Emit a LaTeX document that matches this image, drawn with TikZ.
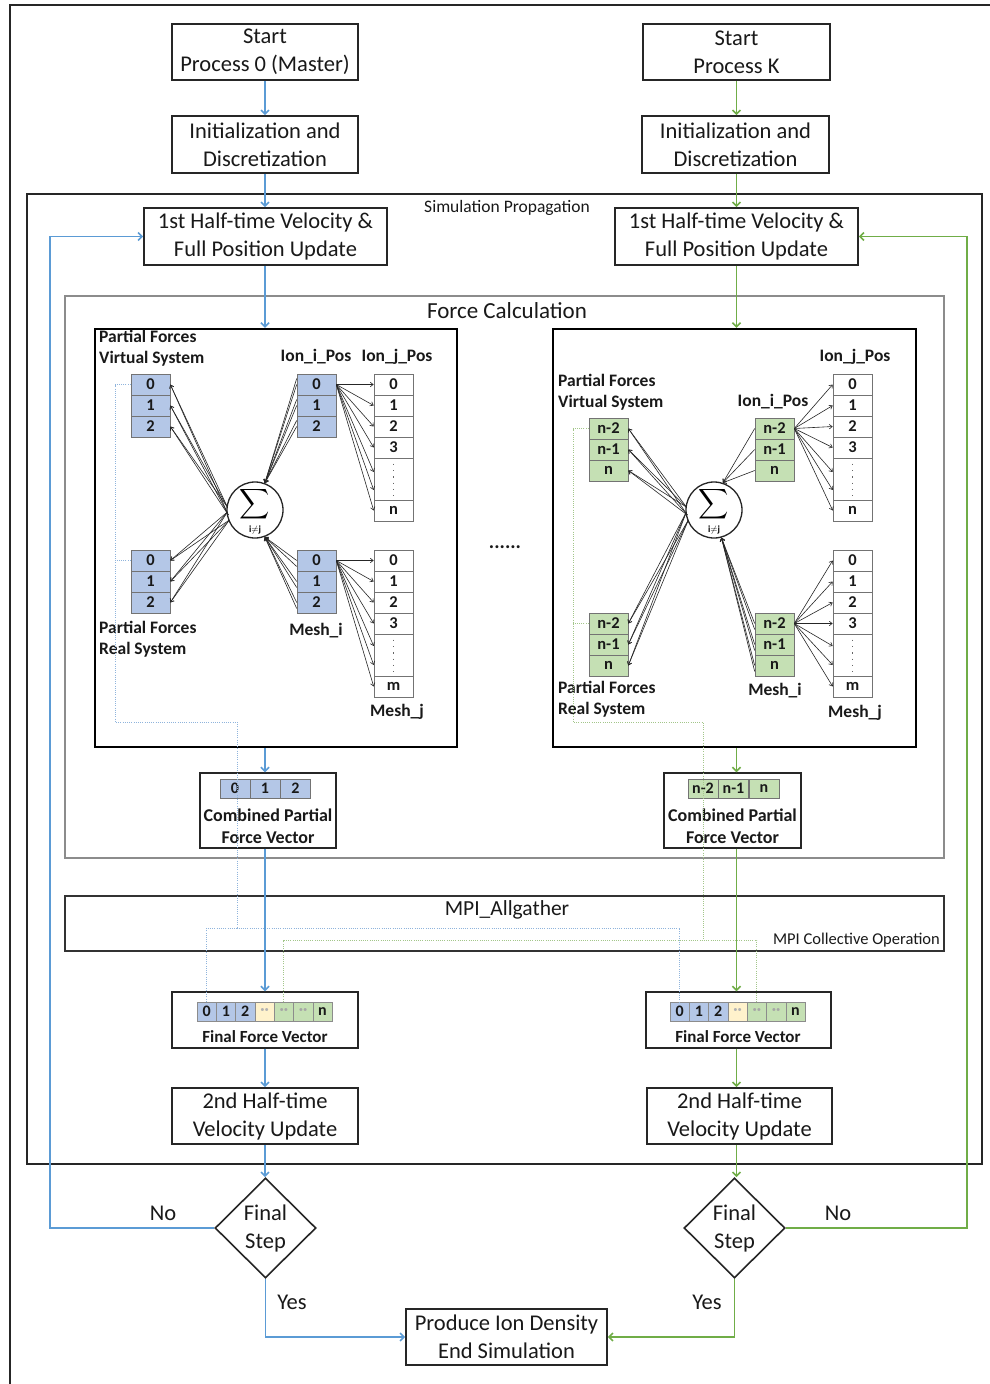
\documentclass[tikz,border=0pt]{standalone}
\usepackage{fontspec}
\usepackage{graphicx}
\setmainfont{Carlito}
\usetikzlibrary{arrows.meta,shapes.geometric,calc}
\definecolor{bln}{HTML}{5B9BD5}
\definecolor{grn}{HTML}{70AD47}
\definecolor{cbl}{HTML}{B4C7E7}
\definecolor{cgr}{HTML}{C5E0B4}
\definecolor{cye}{HTML}{FFF2CC}
\definecolor{bdt}{HTML}{8FB4DC}
\definecolor{gdt}{HTML}{A3C68A}
\begin{document}
\begin{tikzpicture}[x=1pt,y=-1pt,
  box/.style={draw=black!85, line width=1.6pt, align=center, inner sep=0pt, text=black!90, font=\fontsize{22.5}{28}\selectfont},
  bl/.style={draw=bln, line width=1.6pt, -{Straight Barb[length=4pt,width=8pt]}},
  gl/.style={draw=grn, line width=1.6pt, -{Straight Barb[length=4pt,width=8pt]}},
  cellbase/.style={draw=black!55, line width=0.6pt, minimum width=39pt, minimum height=21pt, inner sep=0pt, text=black!90, font=\fontsize{16.5}{16.5}\selectfont\bfseries},
  cb/.style={cellbase, fill=cbl},
  cg/.style={cellbase, fill=cgr},
  cw/.style={cellbase, fill=white},
  fcell/.style={draw=black!45, line width=0.5pt, minimum width=19.3pt, minimum height=19pt, inner sep=0pt, text=black!90, font=\fontsize{16}{16}\selectfont\bfseries},
  ccell/.style={draw=black!55, line width=0.5pt, minimum width=30pt, minimum height=19pt, inner sep=0pt, text=black!90, font=\fontsize{16}{16}\selectfont\bfseries},
  lbl/.style={inner sep=0pt, text=black!90, font=\fontsize{17.5}{21}\selectfont\bfseries, align=left},
  ar/.style={draw=black!85, line width=0.6pt, -{Straight Barb[length=3pt,width=4.5pt]}},
  dotB/.style={draw=bdt, line width=1pt, dash pattern=on 1pt off 1.2pt},
  dotG/.style={draw=gdt, line width=1pt, dash pattern=on 1pt off 1.2pt},
  yn/.style={inner sep=0pt, text=black!90, font=\fontsize{22.5}{22.5}\selectfont}
]
\useasboundingbox (0,0) rectangle (990,1384);
\fill[white] (0,0) rectangle (990,1384);
\draw[line width=2pt, black!85] (10,1384) -- (10,5) -- (990,5);

% ---------- top boxes ----------
\node[box, minimum width=186pt, minimum height=56pt] (s0) at (265,52) {Start\\Process 0 (Master)};
\node[box, minimum width=187pt, minimum height=56pt] (s1) at (736.5,52) {Start\\Process K};
\node[box, minimum width=186pt, minimum height=57pt] (i0) at (265,144.5) {Initialization and\\Discretization};
\node[box, minimum width=187pt, minimum height=57pt] (i1) at (735.5,144.5) {Initialization and\\Discretization};

% ---------- frames ----------
\node[draw=black!85, line width=1.3pt, minimum width=955pt, minimum height=970pt, inner sep=0pt] (sim) at (504.5,679) {};
\node[inner sep=0pt, text=black!90, font=\fontsize{17.5}{17.5}\selectfont] (simt) at (507,208) {Simulation Propagation};
\node[box, minimum width=243pt, minimum height=57pt] (h0) at (265.5,236.5) {1st Half-time Velocity \&\\Full Position Update};
\node[box, minimum width=243pt, minimum height=57pt] (h1) at (736.5,236.5) {1st Half-time Velocity \&\\Full Position Update};

\node[draw=black!45, line width=1.2pt, minimum width=879pt, minimum height=562pt, inner sep=0pt] (fc) at (504.5,577) {};
\node[inner sep=0pt, text=black!90, font=\fontsize{23}{23}\selectfont] (fct) at (507,311) {Force Calculation};

\node[draw=black, line width=2.4pt, minimum width=362pt, minimum height=418pt, inner sep=0pt] (lp) at (276,538) {};
\node[draw=black, line width=2.4pt, minimum width=363pt, minimum height=418pt, inner sep=0pt] (rp) at (734.5,538) {};
\node[inner sep=0pt, text=black!90, font=\fontsize{20}{20}\selectfont\bfseries] (dots) at (505,547) {......};

% ---------- left panel ----------
\node[lbl, anchor=north west] (lvt) at (99,330) {Partial Forces\\Virtual System};
\node[lbl] (lit) at (316,357) {Ion\_i\_Pos};
\node[lbl] (ljt) at (397,357) {Ion\_j\_Pos};
\node[lbl, anchor=north west] (lrt) at (99,621) {Partial Forces\\Real System};
\node[lbl] (lmt) at (316,631) {Mesh\_i};
\node[lbl] (lkt) at (397,712) {Mesh\_j};

\foreach \n/\y in {0/384.5,1/405.5,2/426.5} {
  \node[cb] (lv\n) at (150.5,\y) {\n};
  \node[cb] (li\n) at (316.5,\y) {\n};
}
\foreach \n/\y in {0/560.5,1/581.5,2/602.5} {
  \node[cb] (lr\n) at (150.5,\y) {\n};
  \node[cb] (lm\n) at (316.5,\y) {\n};
}
\node[cw] (lj0) at (393.5,384.5) {0};
\node[cw] (lj1) at (393.5,405.5) {1};
\node[cw] (lj2) at (393.5,426.5) {2};
\node[cw] (lj3) at (393.5,447.5) {3};
\node[cw, minimum height=42pt] (ljd) at (393.5,479) {};
\node[cw] (ljn) at (393.5,510.5) {n};
\node[cw] (lk0) at (393.5,560.5) {0};
\node[cw] (lk1) at (393.5,581.5) {1};
\node[cw] (lk2) at (393.5,602.5) {2};
\node[cw] (lk3) at (393.5,623.5) {3};
\node[cw, minimum height=42pt] (lkd) at (393.5,655) {};
\node[cw] (lkm) at (393.5,686.5) {m};
\draw[black!60, line width=1.3pt, dash pattern=on 1.3pt off 5pt] ($(ljd.north)+(0,6)$) -- ($(ljd.south)+(0,-5)$);
\draw[black!60, line width=1.3pt, dash pattern=on 1.3pt off 5pt] ($(lkd.north)+(0,6)$) -- ($(lkd.south)+(0,-5)$);

\node[circle, draw=black!85, line width=1.3pt, minimum size=56pt, inner sep=0pt] (sl) at (255,510) {};
\node[inner sep=0pt] (sls) at (255,504) {\scalebox{2.1}{$\displaystyle\sum$}};
\node[inner sep=0pt, font=\fontsize{9.5}{9.5}\selectfont\bfseries] (sli) at (255,530) {i$\neq$j};

\foreach \c in {lv0,lv1,lv2} {
  \draw[ar] ($(sl.west)+(1,-3)$) -- (\c.east);
  \draw[ar] ($(sl.west)+(2,5)$) -- (\c.east);
}
\foreach \c in {lr0,lr1,lr2} {
  \draw[ar] ($(sl.west)+(1,2)$) -- (\c.east);
  \draw[ar] ($(sl.west)+(3,10)$) -- (\c.east);
}
\foreach \c in {li0,li1,li2} {
  \draw[ar] (\c.west) -- (sl.70);
  \draw[ar] ($(\c.west)+(0,-6)$) -- (sl.70);
}
\foreach \c in {lm0,lm1,lm2} {
  \draw[ar] (\c.west) -- (sl.-70);
  \draw[ar] ($(\c.west)+(0,6)$) -- (sl.-70);
}
\foreach \c in {lj0,lj1,lj2,lj3,ljn} \draw[ar] (li0.east) -- (\c.west);
\draw[ar] (li0.east) -- ($(ljd.west)+(0,-7)$);
\draw[ar] (li0.east) -- ($(ljd.west)+(0,11)$);
\foreach \c in {lk0,lk1,lk2,lk3,lkm} \draw[ar] (lm0.east) -- (\c.west);
\draw[ar] (lm0.east) -- ($(lkd.west)+(0,-9)$);
\draw[ar] (lm0.east) -- ($(lkd.west)+(0,10)$);

% ---------- right panel ----------
\node[lbl, anchor=north west] (rvt) at (558,374) {Partial Forces\\Virtual System};
\node[lbl] (rit) at (773,402) {Ion\_i\_Pos};
\node[lbl] (rjt) at (855,357) {Ion\_j\_Pos};
\node[lbl, anchor=north west] (rrt) at (558,681) {Partial Forces\\Real System};
\node[lbl] (rmt) at (775,691) {Mesh\_i};
\node[lbl] (rkt) at (855,713) {Mesh\_j};

\foreach \n/\y/\t in {0/428.5/n-2,1/449.5/n-1,2/470.5/n} {
  \node[cg] (rv\n) at (608.5,\y) {\t};
  \node[cg] (ri\n) at (774.5,\y) {\t};
}
\foreach \n/\y/\t in {0/623.5/n-2,1/644.5/n-1,2/665.5/n} {
  \node[cg] (rr\n) at (608.5,\y) {\t};
  \node[cg] (rm\n) at (774.5,\y) {\t};
}
\node[cw] (rj0) at (852.5,384.5) {0};
\node[cw] (rj1) at (852.5,405.5) {1};
\node[cw] (rj2) at (852.5,426.5) {2};
\node[cw] (rj3) at (852.5,447.5) {3};
\node[cw, minimum height=42pt] (rjd) at (852.5,479) {};
\node[cw] (rjn) at (852.5,510.5) {n};
\node[cw] (rk0) at (852.5,560.5) {0};
\node[cw] (rk1) at (852.5,581.5) {1};
\node[cw] (rk2) at (852.5,602.5) {2};
\node[cw] (rk3) at (852.5,623.5) {3};
\node[cw, minimum height=42pt] (rkd) at (852.5,655) {};
\node[cw] (rkm) at (852.5,686.5) {m};
\draw[black!60, line width=1.3pt, dash pattern=on 1.3pt off 5pt] ($(rjd.north)+(0,6)$) -- ($(rjd.south)+(0,-5)$);
\draw[black!60, line width=1.3pt, dash pattern=on 1.3pt off 5pt] ($(rkd.north)+(0,6)$) -- ($(rkd.south)+(0,-5)$);

\node[circle, draw=black!85, line width=1.3pt, minimum size=56pt, inner sep=0pt] (sr) at (714,510) {};
\node[inner sep=0pt] (srs) at (714,504) {\scalebox{2.1}{$\displaystyle\sum$}};
\node[inner sep=0pt, font=\fontsize{9.5}{9.5}\selectfont\bfseries] (sri) at (714,530) {i$\neq$j};

\foreach \c in {rv0,rv1,rv2} {
  \draw[ar] ($(sr.west)+(1,-3)$) -- (\c.east);
  \draw[ar] ($(sr.west)+(2,5)$) -- (\c.east);
}
\foreach \c in {rr0,rr1,rr2} {
  \draw[ar] ($(sr.west)+(1,2)$) -- (\c.east);
  \draw[ar] ($(sr.west)+(3,10)$) -- (\c.east);
}
\foreach \c in {ri0,ri1,ri2} {
  \draw[ar] (\c.west) -- (sr.72);
}
\foreach \c in {rm0,rm1,rm2} {
  \draw[ar] (\c.west) -- (sr.-75);
  \draw[ar] ($(\c.west)+(0,6)$) -- (sr.-75);
}
\foreach \c in {rj0,rj1,rj2,rj3,rjn} \draw[ar] (ri0.east) -- (\c.west);
\draw[ar] (ri0.east) -- ($(rjd.west)+(0,-7)$);
\draw[ar] (ri0.east) -- ($(rjd.west)+(0,11)$);
\foreach \c in {rk0,rk1,rk2,rk3,rkm} \draw[ar] (rm0.east) -- (\c.west);
\draw[ar] (rm0.east) -- ($(rkd.west)+(0,-9)$);
\draw[ar] (rm0.east) -- ($(rkd.west)+(0,10)$);

% ---------- combined vectors ----------
\node[draw=black!85, line width=1.4pt, minimum width=136pt, minimum height=75pt, inner sep=0pt] (cl) at (268,810.5) {};
\node[ccell, fill=cbl] (cl0) at (235,788.5) {0};
\node[ccell, fill=cbl] (cl1) at (265,788.5) {1};
\node[ccell, fill=cbl] (cl2) at (295.5,788.5) {2};
\node[inner sep=0pt, align=center, text=black!90, font=\fontsize{18}{22}\selectfont\bfseries] (clt) at (268,826) {Combined Partial\\Force Vector};

\node[draw=black!85, line width=1.4pt, minimum width=137pt, minimum height=75pt, inner sep=0pt] (cr) at (732.5,810.5) {};
\node[ccell, fill=cgr] (cr0) at (703,788.5) {n-2};
\node[ccell, fill=cgr] (cr1) at (733.5,788.5) {n-1};
\node[ccell, fill=cgr] (cr2) at (764,788.5) {n};
\node[inner sep=0pt, align=center, text=black!90, font=\fontsize{18}{22}\selectfont\bfseries] (crt) at (732.5,826) {Combined Partial\\Force Vector};

% ---------- MPI ----------
\node[draw=black!80, line width=1.5pt, minimum width=879pt, minimum height=55pt, inner sep=0pt] (mpi) at (504.5,923.5) {};
\node[inner sep=0pt, text=black!90, font=\fontsize{21.5}{21.5}\selectfont] (mpit) at (507,910) {MPI\_Allgather};
\node[inner sep=0pt, anchor=east, text=black!90, font=\fontsize{16.5}{16.5}\selectfont] (mpic) at (940,940) {MPI Collective Operation};

% ---------- final vectors ----------
\node[draw=black!85, line width=1.4pt, minimum width=186pt, minimum height=56pt, inner sep=0pt] (fl) at (265,1020) {};
\node[draw=black!85, line width=1.4pt, minimum width=185pt, minimum height=56pt, inner sep=0pt] (fr) at (738.5,1020) {};
\foreach \i/\c/\t in {0/cbl/0,1/cbl/1,2/cbl/2,3/cye/{\textcolor{black!30}{··}},4/cgr/{\textcolor{black!35}{··}},5/cgr/{\textcolor{black!35}{··}},6/cgr/n} {
  \node[fcell, fill=\c] (flc\i) at ({206.65+19.3*\i},1011.5) {\t};
  \node[fcell, fill=\c] (frc\i) at ({679.65+19.3*\i},1011.5) {\t};
}
\node[inner sep=0pt, text=black!90, font=\fontsize{17}{17}\selectfont\bfseries] (flt) at (265,1036.5) {Final Force Vector};
\node[inner sep=0pt, text=black!90, font=\fontsize{17}{17}\selectfont\bfseries] (frt) at (738,1036.5) {Final Force Vector};

% ---------- lower boxes ----------
\node[box, minimum width=186pt, minimum height=56pt] (q0) at (265,1116) {2nd Half-time\\Velocity Update};
\node[box, minimum width=185pt, minimum height=56pt] (q1) at (739.5,1116) {2nd Half-time\\Velocity Update};
\node[box, shape=diamond, aspect=1, minimum width=101pt, minimum height=100pt] (d0) at (265.5,1228) {Final\\Step};
\node[box, shape=diamond, aspect=1, minimum width=101pt, minimum height=100pt] (d1) at (734.5,1228) {Final\\Step};
\node[box, minimum width=201pt, minimum height=56pt] (pe) at (506.5,1337) {Produce Ion Density\\End Simulation};

\node[yn] (no0) at (163,1213) {No};
\node[yn] (ye0) at (292,1302) {Yes};
\node[yn] (no1) at (838,1213) {No};
\node[yn] (ye1) at (707,1302) {Yes};

% ---------- dotted gather lines ----------
\coordinate (bx) at (115,722);
\coordinate (bc) at (237,722);
\coordinate (bm) at (237,928);
\coordinate (gx) at (573,722);
\coordinate (gc) at (703,722);
\coordinate (gm) at (703,940);
\draw[dotB] (lv0.west) -| (bx) -- (bc) -- (bm);
\draw[dotB] (lr0.west) -- (lr0.west -| bx);
\draw[dotB] (flc0.north) |- (bm) -| (frc0.north);
\draw[dotG] (rv0.west) -| (gx) -- (gc) -- (gm);
\draw[dotG] (rr0.west) -- (rr0.west -| gx);
\draw[dotG] (flc4.north) |- (gm) -| (frc4.north);

% ---------- main connectors ----------
\coordinate (lbk) at (50,1228);
\coordinate (rbk) at (967,1228);
\draw[bl] (s0.south) -- (s0.south |- i0.north);
\draw[bl] (i0.south) -- (i0.south |- h0.north);
\draw[bl] (i0.south |- h0.south) -- (i0.south |- lp.north);
\draw[bl] (i0.south |- lp.south) -- (i0.south |- cl.north);
\draw[bl] (i0.south |- cl.south) -- (i0.south |- fl.north);
\draw[bl] (i0.south |- fl.south) -- (i0.south |- q0.north);
\draw[bl] (i0.south |- q0.south) -- (i0.south |- d0.north);
\draw[bl] (d0.west) -- (lbk) |- (h0.west);
\draw[bl] (d0.south) |- (pe.west);

\draw[gl] (s1.south) -- (s1.south |- i1.north);
\draw[gl] (s1.south |- i1.south) -- (s1.south |- h1.north);
\draw[gl] (s1.south |- h1.south) -- (s1.south |- rp.north);
\draw[gl] (s1.south |- rp.south) -- (s1.south |- cr.north);
\draw[gl] (s1.south |- cr.south) -- (s1.south |- fr.north);
\draw[gl] (s1.south |- fr.south) -- (s1.south |- q1.north);
\draw[gl] (s1.south |- q1.south) -- (s1.south |- d1.north);
\draw[gl] (d1.east) -- (rbk) |- (h1.east);
\draw[gl] (d1.south) |- (pe.east);
\end{tikzpicture}
\end{document}
